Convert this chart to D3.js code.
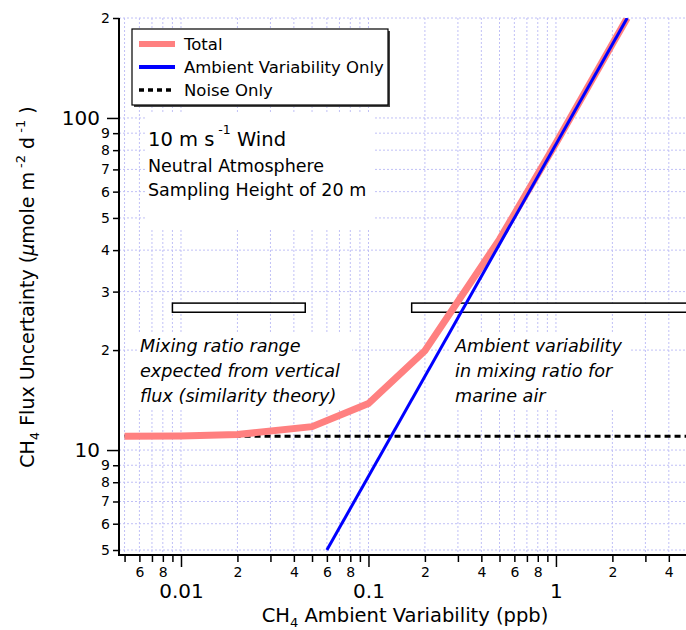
<!DOCTYPE html>
<html>
<head>
<meta charset="utf-8">
<script src="https://cdn.jsdelivr.net/npm/d3@7/dist/d3.min.js"></script>
<style>
  html, body { margin: 0; padding: 0; background: #fff; }
  svg { display: block; font-family: "DejaVu Sans", sans-serif; }
</style>
</head>
<body>
<svg id="chart" width="686" height="630"></svg>
<script>
// ---------------- data ----------------
const totalX   = [0.005, 0.01, 0.02, 0.05, 0.1, 0.2, 0.5, 1, 2, 2.4];
const totalY   = [11.0, 11.03, 11.13, 11.76, 13.8, 19.9, 43.1, 84.0, 167, 200];
const ambientX = [0.06, 2.4];
const ambientY = [5, 200];
const noiseX   = [0.005, 5];
const noiseY   = [11.0, 11.0];
const rangeBoxes = [
  { x0: 0.009, x1: 0.046, y0: 26.0, y1: 27.7 },
  { x0: 0.17,  x1: 8,     y0: 26.0, y1: 27.7 }
];
const xMajorTicks = [0.01, 0.1, 1];
const xMajorLabels = ["0.01", "0.1", "1"];
const xMinorTicks = [0.005,0.006,0.007,0.008,0.009,
                     0.02,0.03,0.04,0.05,0.06,0.07,0.08,0.09,
                     0.2,0.3,0.4,0.5,0.6,0.7,0.8,0.9,
                     2,3,4];
const xMinorLabels = ["","6","","8","",
                      "2","","4","","6","","8","",
                      "2","","4","","6","","8","",
                      "2","","4"];
const yMajorTicks = [10, 100];
const yMajorLabels = ["10", "100"];
const yMinorTicks = [5,6,7,8,9,20,30,40,50,60,70,80,90,200];
const yMinorLabels = ["5","6","7","8","9","2","3","4","5","6","7","8","9","2"];
const legendItems = ["Total", "Ambient Variability Only", "Noise Only"];

// ---------------- layout ----------------
const L = 119, R = 686, T = 18, B = 555;
const svg = d3.select("#chart");
const x = d3.scaleLog().domain([0.00467, 4.94]).range([L, R]);
const y = d3.scaleLog().domain([4.83, 200]).range([B, T]);

// grid
const gridColor = "#c0c0f6";
const grid = svg.append("g");
grid.selectAll("line.vx").data(xMajorTicks.concat(xMinorTicks)).join("line")
  .attr("x1", d => x(d)).attr("x2", d => x(d)).attr("y1", T).attr("y2", B)
  .attr("stroke", gridColor).attr("stroke-width", 1).attr("stroke-dasharray", "2,2");
grid.selectAll("line.hy").data(yMajorTicks.concat(yMinorTicks)).join("line")
  .attr("y1", d => y(d)).attr("y2", d => y(d)).attr("x1", L).attr("x2", R)
  .attr("stroke", gridColor).attr("stroke-width", 1).attr("stroke-dasharray", "2,2");

// white backgrounds of annotations (hide grid)
const bgs = [[147, 113, 226, 115], [138, 332, 214, 77], [450, 332, 180, 77]];
svg.append("g").selectAll("rect").data(bgs).join("rect")
  .attr("x", d => d[0]).attr("y", d => d[1]).attr("width", d => d[2]).attr("height", d => d[3])
  .attr("fill", "#fff");

// range boxes
svg.append("g").selectAll("rect").data(rangeBoxes).join("rect")
  .attr("x", d => x(d.x0)).attr("y", d => y(d.y1))
  .attr("width", d => x(d.x1) - x(d.x0)).attr("height", d => y(d.y0) - y(d.y1))
  .attr("fill", "#fff").attr("stroke", "#000").attr("stroke-width", 1.5);

// clip
svg.append("clipPath").attr("id", "plotclip").append("rect")
  .attr("x", L).attr("y", T).attr("width", R - L).attr("height", B - T);

const line = d3.line().x(d => x(d[0])).y(d => y(d[1]));
const plot = svg.append("g").attr("clip-path", "url(#plotclip)");
plot.append("path").datum(noiseX.map((v, i) => [v, noiseY[i]])).attr("d", line)
  .attr("fill", "none").attr("stroke", "#000").attr("stroke-width", 3).attr("stroke-dasharray", "6,4");
plot.append("path").datum(totalX.map((v, i) => [v, totalY[i]])).attr("d", line)
  .attr("fill", "none").attr("stroke", "#ff8080").attr("stroke-width", 7).attr("stroke-linejoin", "miter");
plot.append("path").datum(ambientX.map((v, i) => [v, ambientY[i]])).attr("d", line)
  .attr("fill", "none").attr("stroke", "#0000ff").attr("stroke-width", 3);

// axes
function styleAxis(g) {
  g.select(".domain").remove();
  g.selectAll(".tick line").attr("stroke", "#000").attr("stroke-width", 1.5);
  g.selectAll(".tick text").attr("fill", "#000").attr("font-family", "DejaVu Sans, sans-serif");
}
svg.append("g").attr("transform", `translate(0,${B})`)
  .call(d3.axisBottom(x).tickValues(xMinorTicks).tickSize(7).tickPadding(5)
    .tickFormat((d, i) => xMinorLabels[i]))
  .call(styleAxis).call(g => g.selectAll(".tick text").attr("font-size", 14));
svg.append("g").attr("transform", `translate(0,${B})`)
  .call(d3.axisBottom(x).tickValues(xMajorTicks).tickSize(12).tickPadding(17)
    .tickFormat((d, i) => xMajorLabels[i]))
  .call(styleAxis).call(g => g.selectAll(".tick text").attr("font-size", 20));
svg.append("g").attr("transform", `translate(${L},0)`)
  .call(d3.axisLeft(y).tickValues(yMinorTicks).tickSize(6).tickPadding(3)
    .tickFormat((d, i) => yMinorLabels[i]))
  .call(styleAxis).call(g => g.selectAll(".tick text").attr("font-size", 14));
svg.append("g").attr("transform", `translate(${L},0)`)
  .call(d3.axisLeft(y).tickValues(yMajorTicks).tickSize(12).tickPadding(7)
    .tickFormat((d, i) => yMajorLabels[i]))
  .call(styleAxis).call(g => g.selectAll(".tick text").attr("font-size", 20));
svg.append("line").attr("x1", L).attr("x2", L).attr("y1", T).attr("y2", B + 1)
  .attr("stroke", "#000").attr("stroke-width", 2);
svg.append("line").attr("x1", L - 1).attr("x2", R).attr("y1", B).attr("y2", B)
  .attr("stroke", "#000").attr("stroke-width", 2);

// axis titles
const xt = svg.append("text").attr("x", 405).attr("y", 622).attr("text-anchor", "middle")
  .attr("font-size", 19.5).attr("fill", "#000");
xt.append("tspan").text("CH");
xt.append("tspan").attr("font-size", 13).attr("dy", 5).text("4");
xt.append("tspan").attr("dy", -5).text(" Ambient Variability (ppb)");

const yt = svg.append("text").attr("transform", "translate(34,287) rotate(-90)")
  .attr("text-anchor", "middle").attr("font-size", 19).attr("fill", "#000");
yt.append("tspan").text("CH");
yt.append("tspan").attr("font-size", 13).attr("dy", 5).text("4");
yt.append("tspan").attr("dy", -5).text(" Flux Uncertainty (");
yt.append("tspan").attr("font-style", "italic").text("μ");
yt.append("tspan").text("mole m");
yt.append("tspan").attr("font-size", 13).attr("dy", -9).text(" -2");
yt.append("tspan").attr("dy", 9).text(" d");
yt.append("tspan").attr("font-size", 13).attr("dy", -9).text(" -1");
yt.append("tspan").attr("dy", 9).text(" )");

// legend
const lg = svg.append("g");
lg.append("rect").attr("x", 134).attr("y", 31).attr("width", 256).attr("height", 76).attr("fill", "#444");
lg.append("rect").attr("x", 132).attr("y", 29).attr("width", 256).attr("height", 76)
  .attr("fill", "#fff").attr("stroke", "#000").attr("stroke-width", 1.2);
const rowsY = [44, 67, 90];
const sampleStyles = [
  { c: "#ff8080", w: 6, dash: null },
  { c: "#0000ff", w: 4, dash: null },
  { c: "#000", w: 3.5, dash: "5,4" }
];
legendItems.forEach((name, i) => {
  const s = sampleStyles[i];
  lg.append("line").attr("x1", 139).attr("x2", 175).attr("y1", rowsY[i]).attr("y2", rowsY[i])
    .attr("stroke", s.c).attr("stroke-width", s.w).attr("stroke-dasharray", s.dash);
  lg.append("text").attr("x", 184).attr("y", rowsY[i] + 6).attr("font-size", 16.5).attr("fill", "#000").text(name);
});

// annotation 1
const a1 = svg.append("text").attr("x", 148).attr("y", 146).attr("font-size", 19.5).attr("fill", "#000");
a1.append("tspan").text("10 m s");
a1.append("tspan").attr("font-size", 12.5).attr("dy", -12).text(" -1");
a1.append("tspan").attr("dy", 12).text(" Wind");
svg.append("text").attr("x", 148).attr("y", 172).attr("font-size", 17.5).attr("fill", "#000").text("Neutral Atmosphere");
svg.append("text").attr("x", 148).attr("y", 196).attr("font-size", 17.5).attr("fill", "#000").text("Sampling Height of 20 m");

// italic annotations
const leftNote = ["Mixing ratio range", "expected from vertical", "flux (similarity theory)"];
const rightNote = ["Ambient variability", "in mixing ratio for", "marine air"];
[[leftNote, 140], [rightNote, 455]].forEach(([lines, xx]) => {
  lines.forEach((t, i) => {
    svg.append("text").attr("x", xx).attr("y", 352 + i * 25).attr("font-size", 17.6)
      .attr("font-style", "italic").attr("fill", "#000").text(t);
  });
});
</script>
</body>
</html>
